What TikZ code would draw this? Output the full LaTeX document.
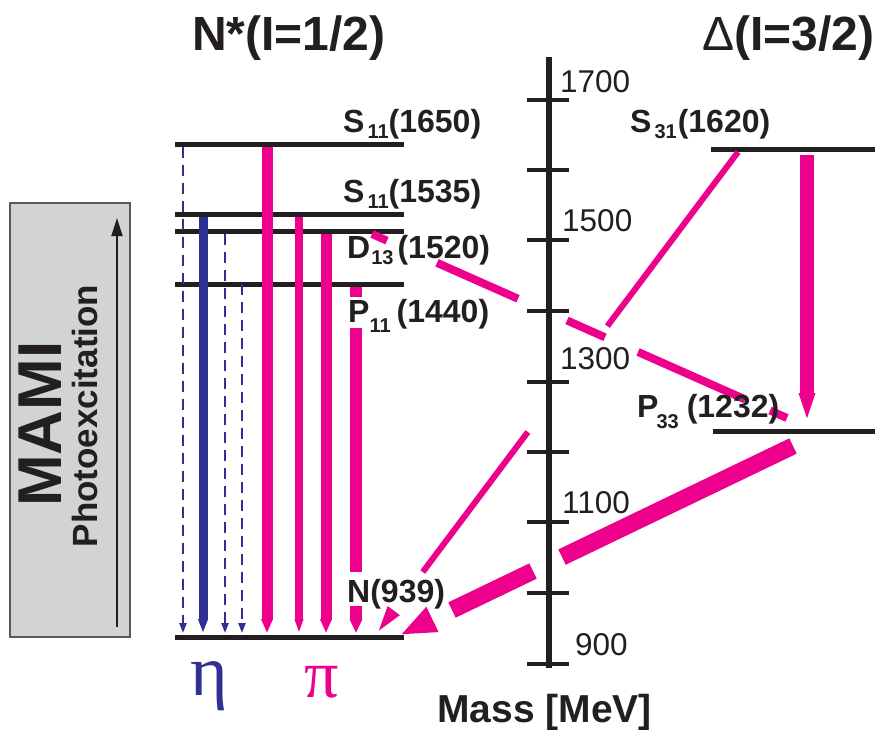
\documentclass[tikz,border=0pt]{standalone}
\usepackage{fontspec}
\setmainfont{Liberation Sans}
\newfontfamily\grkfont{Liberation Serif}
\usetikzlibrary{arrows.meta}
\definecolor{pk}{RGB}{236,0,140}
\definecolor{bl}{RGB}{46,49,146}
\definecolor{blk}{RGB}{35,31,32}
\definecolor{boxfill}{RGB}{209,211,212}
\definecolor{boxline}{RGB}{88,89,91}
\newcommand{\sbs}[2]{\raisebox{-#1pt}{\fontsize{20}{20}\selectfont #2}}
\begin{document}
\begin{tikzpicture}[x=1pt,y=-1pt,
  level/.style={draw=blk,line width=5pt},
  lbl/.style={font=\fontsize{32}{32}\selectfont\bfseries,text=blk,anchor=base west,inner sep=0pt},
  ticklbl/.style={font=\fontsize{31.5}{31.5}\selectfont,text=blk,anchor=base west,inner sep=0pt},
  titlelbl/.style={font=\fontsize{48}{48}\selectfont\bfseries,text=blk,anchor=base west,inner sep=0pt},
  pkar/.style 2 args={draw=pk,line width=#1,-{Triangle[width=0pt 1,length=#2]}},
  blar/.style={draw=bl,line width=#1,-{Triangle[width=0pt 1,length=14pt]}},
  bldash/.style={draw=bl,line width=2.2pt,dash pattern=on 11pt off 7pt,-{Triangle[width=7pt,length=10pt]}},
  axtick/.style={draw=blk,line width=4.5pt}]
\useasboundingbox (0,0) rectangle (875,729);

% MAMI box
\node[draw=boxline,fill=boxfill,line width=1.2pt,minimum width=120pt,minimum height=434pt,inner sep=0pt] (mamibox) at (70,420) {};
\coordinate (pbot) at (117,627);
\coordinate (ptop) at (117,218);
\draw[blk,line width=1.8pt,-{Triangle[width=11pt,length=18pt]}] (pbot) -- (ptop);
\node[rotate=90,font=\fontsize{62}{62}\selectfont\bfseries,text=blk,inner sep=0pt] (mami) at (40.5,424) {MAMI};
\node[rotate=90,font=\fontsize{35}{35}\selectfont\bfseries,text=blk,inner sep=0pt] (photo) at (84.5,416) {Photoexcitation};

% levels
\coordinate (L1650a) at (175,144); \coordinate (L1650b) at (404,144);
\coordinate (L1535a) at (175,214); \coordinate (L1535b) at (404,214);
\coordinate (L1520a) at (175,231); \coordinate (L1520b) at (404,231);
\coordinate (L1440a) at (175,284); \coordinate (L1440b) at (404,284);
\coordinate (L939a) at (175,637);  \coordinate (L939b) at (404,637);
\coordinate (R1620a) at (711,149); \coordinate (R1620b) at (875,149);
\coordinate (R1232a) at (713,431); \coordinate (R1232b) at (875,431);
\foreach \a/\b in {L1650a/L1650b,L1535a/L1535b,L1520a/L1520b,L1440a/L1440b,L939a/L939b,R1620a/R1620b,R1232a/R1232b}
  \draw[level] (\a) -- (\b);

% eta decays
\draw[bldash,shorten <=2.5pt,shorten >=4pt] (183,0 |- L1650a) -- (183,0 |- L939a);
\draw[blar=9pt,shorten <=2.5pt,shorten >=4pt] (203,0 |- L1535a) -- (203,0 |- L939a);
\draw[bldash,shorten <=2.5pt,shorten >=4pt] (225,0 |- L1520a) -- (225,0 |- L939a);
\draw[bldash,shorten <=0pt,shorten >=4pt] (242,0 |- L1440a) -- (242,0 |- L939a);

% pi decays
\draw[pkar={11pt}{14pt},shorten <=2.5pt,shorten >=4pt] (267,0 |- L1650a) -- (267,0 |- L939a);
\draw[pkar={8pt}{14pt},shorten <=2.5pt,shorten >=4pt] (299,0 |- L1535a) -- (299,0 |- L939a);
\draw[pkar={11pt}{14pt},shorten <=2.5pt,shorten >=4pt] (326,0 |- L1520a) -- (326,0 |- L939a);
\draw[pkar={12pt}{14pt},shorten <=2.5pt,shorten >=4pt,dash pattern=on 10.5pt off 31pt on 244pt off 34pt on 100pt] (356,0 |- L1440a) -- (356,0 |- L939a);

% diagonal transitions
\coordinate (d13s) at (372,234);
\coordinate (p33e) at (787,418);
\draw[pk,line width=8pt,dash pattern=on 16.4pt off 54.7pt on 88.6pt off 53.6pt on 41.6pt off 36.1pt on 117pt off 27.4pt on 30pt] (d13s) -- (p33e);

\coordinate (s31s) at (738,152);
\coordinate (n939e) at (377,633);
\draw[pk,line width=6pt,dash pattern=on 217.6pt off 132.5pt on 175pt off 100pt,-{Triangle[width=13pt,length=28pt]}] (s31s) -- (n939e);

\draw[pkar={14pt}{30pt},shorten <=6pt,shorten >=8pt] (807,0 |- R1620a) -- (807,0 |- R1232a);

\coordinate (p33s) at (793,446);
\coordinate (n939t) at (400,635);
\draw[pk,line width=17pt,dash pattern=on 256.3pt off 32.2pt on 89.9pt off 100pt,-{Triangle[width=25pt,length=36pt]}] (p33s) -- (n939t);

% mass axis
\coordinate (axtop) at (549,57);
\coordinate (axbot) at (549,668);
\draw[blk,line width=5.5pt] (axtop) -- (axbot);
\foreach \y in {100,170,240,311,382,452,522,593,664}
  \draw[axtick] (527,\y) -- (569,\y);
\node[ticklbl] (t1700) at (560,92) {1700};
\node[ticklbl] (t1500) at (562,231) {1500};
\node[ticklbl] (t1300) at (560,369) {1300};
\node[ticklbl] (t1100) at (562,513) {1100};
\node[ticklbl] (t900) at (575,655) {900};
\node[font=\fontsize{39}{39}\selectfont\bfseries,text=blk,anchor=base west,inner sep=0pt] (mass) at (437,722) {Mass [MeV]};

% titles
\node[titlelbl] (ntitle) at (192,50) {N*(I=1/2)};
\node[titlelbl] (dtitle) at (702,50) {{\mdseries Δ}(I=3/2)};

% level labels
\node[lbl] (l1650) at (343,132) {S\kern3pt\sbs{6}{11}(1650)};
\node[lbl] (l1535) at (343,202) {S\kern3pt\sbs{6}{11}(1535)};
\node[lbl] (l1520) at (347,258) {D\kern1pt\sbs{6}{13}\kern4pt(1520)};
\node[lbl] (l1440) at (348,322) {P\sbs{10}{11}\kern6pt(1440)};
\node[lbl] (l939) at (347,602) {N(939)};
\node[lbl] (l1620) at (630,132) {S\kern3pt\sbs{6}{31}\kern1pt(1620)};
\node[lbl] (l1232) at (637,417) {P\kern-2pt\sbs{11}{33}\kern8pt(1232)};

% meson labels
\node[font=\grkfont\fontsize{72}{72}\selectfont,text=bl,anchor=base,inner sep=0pt] (eta) at (209,695) {η};
\node[font=\grkfont\fontsize{68}{68}\selectfont,text=pk,anchor=base,inner sep=0pt] (pi) at (322,697) {π};
\end{tikzpicture}
\end{document}
